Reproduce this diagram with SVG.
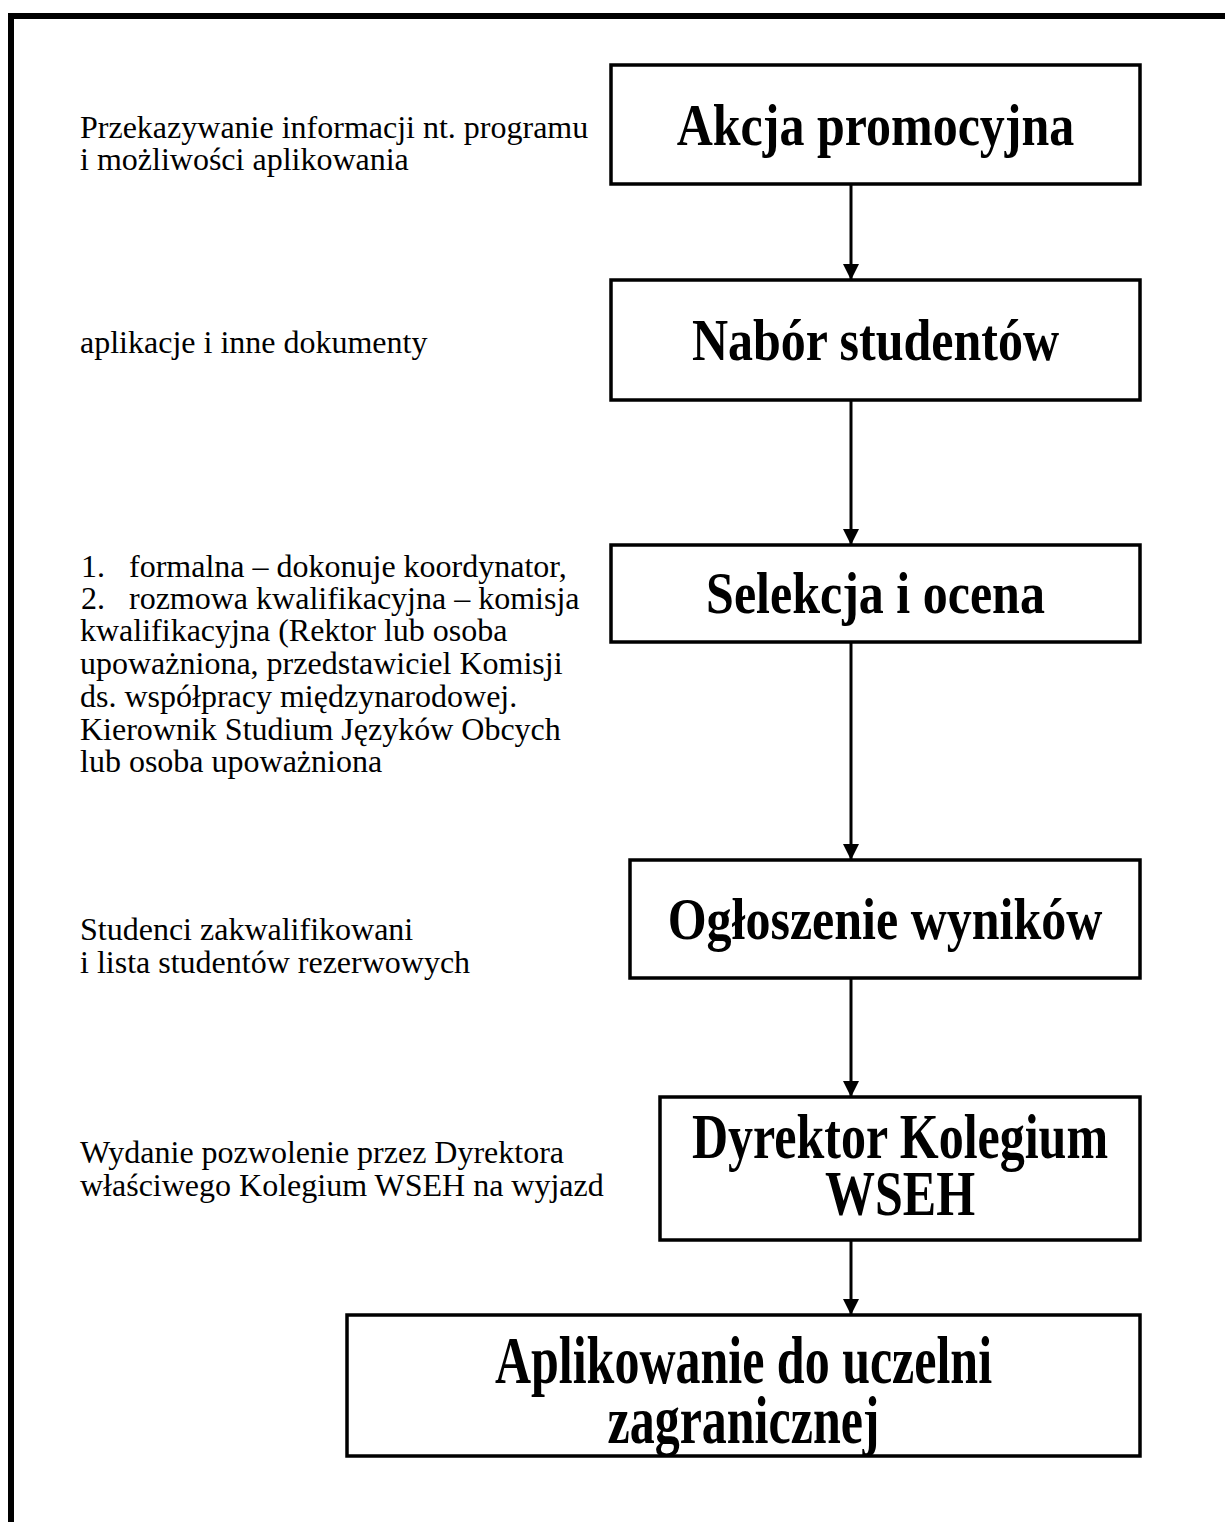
<svg xmlns="http://www.w3.org/2000/svg" width="1225" height="1522" viewBox="0 0 1225 1522">
<style>
.frame{fill:none;stroke:#000;stroke-width:6}
.box{fill:#fff;stroke:#000;stroke-width:3.5}
.title{font-family:"Liberation Serif","Times New Roman",serif;font-weight:bold;font-size:50px;fill:#000;text-anchor:middle}
.note{font-family:"Liberation Serif","Times New Roman",serif;font-size:32px;fill:#000}
.conn{stroke:#000;stroke-width:3;fill:none}
</style>
<defs>
<marker id="ah" markerUnits="userSpaceOnUse" markerWidth="16" markerHeight="16" refX="16" refY="8" orient="auto">
<path d="M0,0 L16,8 L0,16 Z" fill="#000"/>
</marker>
</defs>
<rect width="1225" height="1522" fill="#fff"/>
<path class="frame" d="M11,1522 V16 H1225"/>

<g id="connectors">
<line class="conn" x1="851" y1="184" x2="851" y2="280" marker-end="url(#ah)"/>
<line class="conn" x1="851" y1="400" x2="851" y2="545" marker-end="url(#ah)"/>
<line class="conn" x1="851" y1="642" x2="851" y2="860" marker-end="url(#ah)"/>
<line class="conn" x1="851" y1="978" x2="851" y2="1097" marker-end="url(#ah)"/>
<line class="conn" x1="851" y1="1240" x2="851" y2="1315" marker-end="url(#ah)"/>
</g>

<g id="node1">
<rect class="box" x="611" y="65" width="529" height="119"/>
<text class="title" transform="translate(875.5,145) scale(1,1.2)">Akcja promocyjna</text>
</g>
<g id="node2">
<rect class="box" x="611" y="280" width="529" height="120"/>
<text class="title" transform="translate(875.5,360) scale(1,1.2)">Nabór studentów</text>
</g>
<g id="node3">
<rect class="box" x="611" y="545" width="529" height="97"/>
<text class="title" transform="translate(875.5,613) scale(1,1.2)">Selekcja i ocena</text>
</g>
<g id="node4">
<rect class="box" x="630" y="860" width="510" height="118"/>
<text class="title" transform="translate(885,939) scale(1,1.2)">Ogłoszenie wyników</text>
</g>
<g id="node5">
<rect class="box" x="660" y="1097" width="480" height="143"/>
<text class="title" transform="translate(900,1158) scale(1,1.25)">Dyrektor Kolegium</text>
<text class="title" transform="translate(900,1215) scale(1,1.25)">WSEH</text>
</g>
<g id="node6">
<rect class="box" x="347" y="1315" width="793" height="141"/>
<text class="title" transform="translate(743.5,1383) scale(1,1.35)">Aplikowanie do uczelni</text>
<text class="title" transform="translate(743.5,1443) scale(1,1.35)">zagranicznej</text>
</g>

<g id="notes">
<text class="note" x="80" y="138">Przekazywanie informacji nt. programu</text>
<text class="note" x="80" y="170">i możliwości aplikowania</text>
<text class="note" x="80" y="353">aplikacje i inne dokumenty</text>
<text class="note" x="81" y="577">1.</text>
<text class="note" x="129" y="577">formalna – dokonuje koordynator,</text>
<text class="note" x="81" y="609">2.</text>
<text class="note" x="129" y="609">rozmowa kwalifikacyjna – komisja</text>
<text class="note" x="80" y="641">kwalifikacyjna (Rektor lub osoba</text>
<text class="note" x="80" y="674">upoważniona, przedstawiciel Komisji</text>
<text class="note" x="80" y="707">ds. współpracy międzynarodowej.</text>
<text class="note" x="80" y="740">Kierownik Studium Języków Obcych</text>
<text class="note" x="80" y="772">lub osoba upoważniona</text>
<text class="note" x="80" y="940">Studenci zakwalifikowani</text>
<text class="note" x="80" y="973">i lista studentów rezerwowych</text>
<text class="note" x="80" y="1163">Wydanie pozwolenie przez Dyrektora</text>
<text class="note" x="80" y="1196">właściwego Kolegium WSEH na wyjazd</text>
</g>
</svg>
